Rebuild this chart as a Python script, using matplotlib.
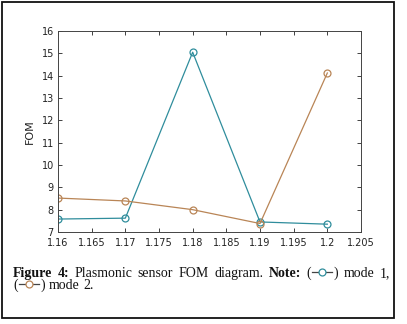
import matplotlib
matplotlib.use("Agg")
import matplotlib.pyplot as plt
from matplotlib.lines import Line2D
from matplotlib.patches import Rectangle

# data
wavelength = [1.16, 1.17, 1.18, 1.19, 1.20]
fom_mode1 = [7.58, 7.62, 15.05, 7.45, 7.35]
fom_mode2 = [8.52, 8.39, 8.00, 7.38, 14.12]
x_ticks = [1.16, 1.165, 1.17, 1.175, 1.18, 1.185, 1.19, 1.195, 1.2, 1.205]
x_tick_labels = ["1.16", "1.165", "1.17", "1.175", "1.18", "1.185", "1.19", "1.195", "1.2", "1.205"]
y_ticks = [7, 8, 9, 10, 11, 12, 13, 14, 15, 16]

TEAL = "#2f8d9c"
BROWN = "#b98556"
W, H = 407, 324

plt.rcParams["font.family"] = ["DejaVu Sans"]

fig = plt.figure(figsize=(W / 100, H / 100), dpi=100)
fig.patch.set_facecolor("white")

# outer frame around figure + caption
fig.patches.append(Rectangle((2 / W, 6 / H), 392 / W, 316 / H, transform=fig.transFigure,
                             fill=False, edgecolor="#111111", lw=1.3))

ax = fig.add_axes([58 / W, 1 - 232 / H, (361 - 58) / W, (232 - 31) / H])
ax.plot(wavelength, fom_mode1, color=TEAL, lw=0.9, marker="o", ms=5, mfc="none", mew=0.9)
ax.plot(wavelength, fom_mode2, color=BROWN, lw=0.9, marker="o", ms=5, mfc="none", mew=0.9)
ax.set_xlim(1.16, 1.205)
ax.set_ylim(7, 16)
ax.set_xticks(x_ticks)
ax.set_xticklabels(x_tick_labels)
ax.set_yticks(y_ticks)
ax.tick_params(direction="in", top=True, right=True, length=3, width=0.6,
               labelsize=7, colors="#222222")
ax.tick_params(axis="x", pad=4)
ax.tick_params(axis="y", pad=3)
for s in ax.spines.values():
    s.set_linewidth(0.7)
    s.set_color("#444444")
ax.set_ylabel("FOM", fontsize=8, color="#222222", labelpad=5)

# caption, placed word by word on a common baseline, first line justified
renderer = fig.canvas.get_renderer()
cap_font = ["Liberation Serif", "DejaVu Serif"]
FS = 10
GW = 23


def run_width(txt, bold):
    t = fig.text(0, 0, txt, fontsize=FS, family=cap_font, fontweight="bold" if bold else "normal")
    w = t.get_window_extent(renderer).width
    t.remove()
    return w


def glyph(x, y_px, color):
    y = 1 - (y_px - 5) / H
    fig.add_artist(Line2D([(x + 1.5) / W, (x + GW - 1.5) / W], [y, y], transform=fig.transFigure,
                          color="#444444", lw=0.9))
    fig.add_artist(Line2D([(x + GW / 2) / W], [y], transform=fig.transFigure, marker="o",
                          ms=5, mfc="white", mec=color, mew=0.9, lw=0))


def place_line(runs, y_px, x0, x1=None):
    widths = [GW if r[0] is None else run_width(r[0], r[1]) for r in runs]
    gaps = sum(r[0].count(" ") for r in runs if r[0] is not None)
    extra = 0
    if x1 is not None and gaps:
        extra = (x1 - x0 - sum(widths)) / gaps
    x = x0
    for r, w in zip(runs, widths):
        if r[0] is None:
            glyph(x, y_px, r[2])
            x += w
            continue
        for i, word in enumerate(r[0].split(" ")):
            if i > 0:
                x += run_width(" ", r[1]) + extra
            if word:
                fig.text(x / W, 1 - y_px / H, word, fontsize=FS, family=cap_font, va="baseline",
                         fontweight="bold" if r[1] else "normal", color="#111111")
                x += run_width(word, r[1])


place_line([("Figure 4:", True), (" Plasmonic sensor FOM diagram. ", False), ("Note:", True),
            (" (", False), (None, False, TEAL), (") mode 1,", False)], 277, 13, 390)
place_line([("(", False), (None, False, BROWN), (") mode 2.", False)], 289, 13)

fig.savefig("out.png", dpi=100)
